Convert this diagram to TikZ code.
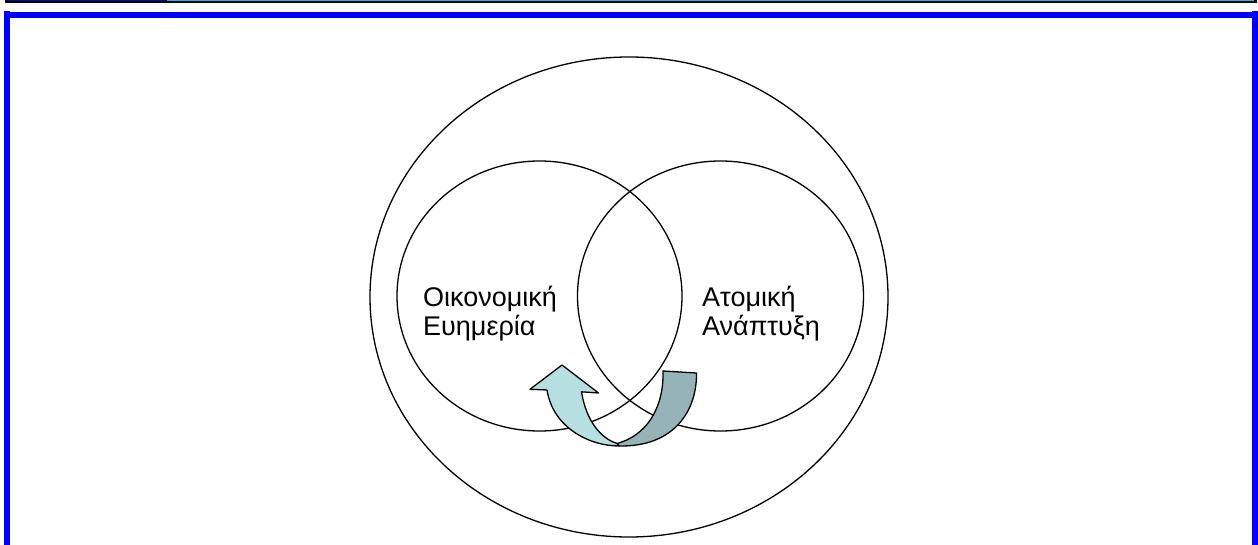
\documentclass[tikz,border=0pt]{standalone}
\usepackage{fontspec}
\setmainfont{Liberation Sans}
\usetikzlibrary{shapes.geometric}
\definecolor{frameblue}{RGB}{0,0,255}
\definecolor{stripblue}{RGB}{10,10,170}
\definecolor{stripcyan}{RGB}{20,190,230}
\definecolor{arrowlight}{RGB}{183,222,225}
\definecolor{arrowdark}{RGB}{150,180,183}
\begin{document}
\begin{tikzpicture}[x=1pt,y=-1pt,
  ring/.style={draw=black,line width=1.3pt,ellipse,inner sep=0pt},
  lbl/.style={anchor=base west,inner sep=0pt,font=\fontsize{27}{31}\selectfont},
  band/.style={draw=black,line width=1.3pt,line join=round}]
\useasboundingbox (0,0) rectangle (1258,545);
% top strip
\fill[black] (5,0) rectangle (1257,2.6);
\fill[stripblue] (7,0) rectangle (165,1.4);
\fill[stripcyan] (167,0) rectangle (1254,1.4);
% blue frame
\fill[frameblue] (4,12) rectangle (1257,18);
\fill[frameblue] (4,11) rectangle (10,545);
\fill[frameblue] (1252,11) rectangle (1258,545);
% circles
\node[ring,minimum width=518pt,minimum height=480pt] (outer) at (629,297) {};
\node[ring,minimum width=285pt,minimum height=270pt] (lc) at (539.5,296) {};
\node[ring,minimum width=286pt,minimum height=270pt] (rc) at (720.5,296) {};
% labels
\node[lbl] (econA) at (423,306.5) {Οικονομική};
\node[lbl] (econB) at (423,335) {Ευημερία};
\node[lbl] (persA) at (702,306.5) {Ατομική};
\node[lbl] (persB) at (702,335) {Ανάπτυξη};
% curved arrow: back (dark) part
\filldraw[band,fill=arrowdark] (663,371) -- (696.5,373)
  .. controls (697,410) and (675,447) .. (619,446)
  -- (617,443.5)
  .. controls (645,436) and (664,410) .. (663,371) -- cycle;
% front (light) part with head
\filldraw[band,fill=arrowlight] (562,365) -- (598.5,393) -- (581.5,391.8)
  .. controls (586,420) and (600,438) .. (617,443.5)
  -- (619,446)
  .. controls (590,446) and (553,428) .. (547,390)
  -- (530,389.3) -- cycle;
\end{tikzpicture}
\end{document}
